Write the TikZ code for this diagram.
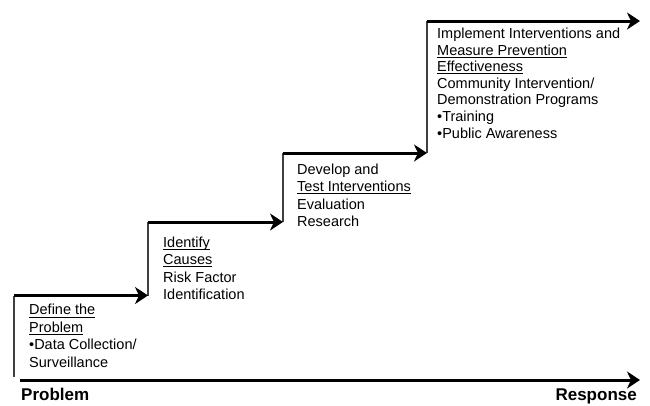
\documentclass[tikz,border=0pt]{standalone}
\usepackage{fontspec}
\setmainfont{Liberation Sans}
\usetikzlibrary{arrows.meta}
\newcommand{\ulx}[1]{\setbox0\hbox{#1}\rlap{\rule[-2.6pt]{\wd0}{0.9pt}}\box0}
\tikzset{
  stair/.style={line width=3pt, -{Stealth[length=13pt,width=17pt,inset=4pt]}},
  riser/.style={line width=1.1pt, draw=black!75},
  steptext/.style={anchor=base west, align=left, inner sep=0pt,
    font=\fontsize{14.5pt}{17.4pt}\selectfont},
  axislabel/.style={inner sep=0pt, font=\fontsize{17pt}{20pt}\selectfont\bfseries}
}
\begin{document}
\begin{tikzpicture}[x=1pt,y=-1pt]
\useasboundingbox (0,0) rectangle (650,405);
% corners of the staircase
\coordinate (b1) at (14,377);
\coordinate (c1) at (14,295.5);
\coordinate (c2) at (148,222);
\coordinate (e1) at (148,295.5);
\coordinate (c3) at (283,153);
\coordinate (e2) at (283,222);
\coordinate (c4) at (427,21);
\coordinate (e3) at (427,153);
\coordinate (e4) at (640,21);
\coordinate (a0) at (20,380);
\coordinate (a1) at (640,380);
% risers
\draw[riser] (b1) -- (c1);
\draw[riser] (e1) -- (c2);
\draw[riser] (e2) -- (c3);
\draw[riser] (e3) -- (c4);
% treads
\draw[stair] (c1) -- (e1);
\draw[stair] (c2) -- (e2);
\draw[stair] (c3) -- (e3);
\draw[stair] (c4) -- (e4);
% axis
\draw[stair] (a0) -- (a1);
% texts (anchored at the baseline of the last line)
\node[steptext] (t1) at (29,367) {\ulx{Define the}\\\ulx{Problem}\\•Data Collection/\\Surveillance};
\node[steptext] (t2) at (163,299.5) {\ulx{Identify}\\\ulx{Causes}\\Risk Factor\\Identification};
\node[steptext] (t3) at (297,226.5) {Develop and\\\ulx{Test Interventions}\\Evaluation\\Research};
\node[steptext, font=\fontsize{14.5pt}{16.6pt}\selectfont] (t4) at (437,138) {Implement Interventions and\\\ulx{Measure Prevention}\\\ulx{Effectiveness}\\Community Intervention/\\Demonstration Programs\\•Training\\•Public Awareness};
\node[axislabel, anchor=base west] (p) at (21,400.5) {Problem};
\node[axislabel, anchor=base east] (r) at (637,400.5) {Response};
\end{tikzpicture}
\end{document}
